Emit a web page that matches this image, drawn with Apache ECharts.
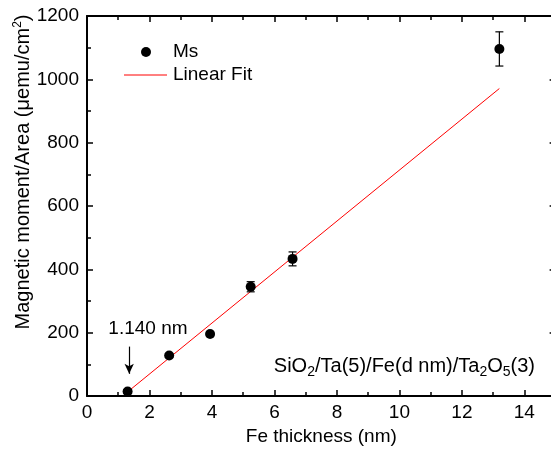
<!DOCTYPE html>
<html><head><meta charset="utf-8">
<script src="https://cdn.jsdelivr.net/npm/echarts@6/dist/echarts.min.js"></script>
<style>html,body{margin:0;padding:0;background:#fff}#c{width:551px;height:450px}</style>
</head><body><div id="c"></div>
<script>
// Data
const thickness = [1.30, 2.63, 3.94, 5.24, 6.58, 13.2];
const msValues  = [14, 128, 196, 345, 433, 1096];
const msErrors  = [6, 6, 6, 16, 22, 54];
const fitX = [1.30, 13.2];
const fitY = [13, 971];
const arrowX = 1.35;
const arrowFromY = 156;
const arrowToY = 70;
const arrowLabel = '1.140 nm';

const FONT = 'Liberation Sans, Arial, sans-serif';
const FS = 19;
const scatterData = thickness.map((x, i) => [x, msValues[i]]);
const errData = thickness.map((x, i) => [x, msValues[i], msErrors[i]]);
const fitData = fitX.map((x, i) => [x, fitY[i]]);

const chart = echarts.init(document.getElementById('c'));
const lineStyle = {color: '#000', width: 2};
function xAx(pos, interval, tickLen, showLabel, showLine) {
  return {
    type: 'value', min: 0, max: 15, interval: interval, position: pos,
    axisLine: {show: showLine, onZero: false, lineStyle: lineStyle},
    axisTick: {show: true, inside: true, length: tickLen, lineStyle: {color: '#000', width: 1.5}},
    axisLabel: {show: showLabel, color: '#000', fontSize: FS, fontFamily: FONT, margin: 7,
      formatter: v => (v % 2 === 0 ? String(v) : '')},
    splitLine: {show: false},
    name: (showLabel ? 'Fe thickness (nm)' : ''), nameLocation: 'middle', nameGap: 29,
    nameTextStyle: {color: '#000', fontSize: FS, fontFamily: FONT}
  };
}
function yAx(pos, showLabel) {
  return {
    type: 'value', min: 0, max: 1200, interval: 200, position: pos,
    axisLine: {show: true, onZero: false, lineStyle: lineStyle},
    axisTick: {show: true, inside: true, length: 6, lineStyle: {color: '#000', width: 1.5}},
    minorTick: {show: true, splitNumber: 2, length: 4, lineStyle: {color: '#000', width: 1.5}},
    axisLabel: {show: showLabel, color: '#000', fontSize: FS, fontFamily: FONT, margin: 8,
      formatter: v => String(v)},
    splitLine: {show: false}, minorSplitLine: {show: false}
  };
}

chart.setOption({
  animation: false,
  backgroundColor: '#fff',
  grid: {left: 87, right: -4.6, top: 16, bottom: 54, containLabel: false, outerBoundsMode: 'none'},
  xAxis: [
    xAx('bottom', 2, 6, true, true),
    xAx('bottom', 1, 4, false, false),
    xAx('top', 2, 6, false, true),
    xAx('top', 1, 4, false, false)
  ],
  yAxis: [yAx('left', true), yAx('right', false)],
  series: [
    {
      type: 'line', data: fitData, xAxisIndex: 0, yAxisIndex: 0,
      symbol: 'none', lineStyle: {color: '#ff0000', width: 1}, z: 2
    },
    {
      type: 'custom', data: errData, xAxisIndex: 0, yAxisIndex: 0, z: 3,
      renderItem: function (params, api) {
        const x = api.value(0), y = api.value(1), e = api.value(2);
        const t = api.coord([x, y + e]);
        const b = api.coord([x, y - e]);
        const hw = 4;
        const st = {stroke: '#000', lineWidth: 1.2};
        return {type: 'group', children: [
          {type: 'line', shape: {x1: t[0], y1: t[1], x2: b[0], y2: b[1]}, style: st},
          {type: 'line', shape: {x1: t[0] - hw, y1: t[1], x2: t[0] + hw, y2: t[1]}, style: st},
          {type: 'line', shape: {x1: b[0] - hw, y1: b[1], x2: b[0] + hw, y2: b[1]}, style: st}
        ]};
      }
    },
    {
      type: 'scatter', data: scatterData, xAxisIndex: 0, yAxisIndex: 0, z: 4,
      symbol: 'circle', symbolSize: 10, itemStyle: {color: '#000', opacity: 1},
      markLine: {
        silent: true, symbol: ['none', 'arrow'], symbolSize: [7, 10],
        lineStyle: {color: '#000', width: 1.2, type: 'solid'},
        label: {show: false},
        data: [[{coord: [arrowX, arrowFromY]}, {coord: [arrowX, arrowToY]}]]
      },
      markPoint: {
        silent: true, symbol: 'rect', symbolSize: 1, itemStyle: {color: 'rgba(0,0,0,0)'},
        label: {show: true, position: 'inside', formatter: arrowLabel, color: '#000', fontSize: FS, fontFamily: FONT},
        data: [{coord: [1.95, 213]}]
      }
    }
  ],
  graphic: [
    {type: 'circle', shape: {cx: 146, cy: 52, r: 5}, style: {fill: '#000'}},
    {type: 'text', x: 173, y: 52, style: {text: 'Ms', fill: '#000', font: FS + 'px ' + FONT, textVerticalAlign: 'middle'}},
    {type: 'line', shape: {x1: 124, y1: 75, x2: 167, y2: 75}, style: {stroke: '#ff0000', lineWidth: 1}},
    {type: 'text', x: 173, y: 75, style: {text: 'Linear Fit', fill: '#000', font: FS + 'px ' + FONT, textVerticalAlign: 'middle'}},
    {type: 'text', x: 23, y: 172, rotation: Math.PI / 2,
      style: {
        text: '{n|Magnetic moment/Area (μemu/cm}{s|2}{n|)}',
        textAlign: 'center', textVerticalAlign: 'middle',
        rich: {
          n: {fontSize: 20, fontFamily: FONT, fill: '#000', color: '#000'},
          s: {fontSize: 12, fontFamily: FONT, fill: '#000', color: '#000', verticalAlign: 'top', padding: [0, 0, 10, 0]}
        }
      }},
    {type: 'text', x: 535, y: 366,
      style: {
        text: '{n|SiO}{s|2}{n|/Ta(5)/Fe(d nm)/Ta}{s|2}{n|O}{s|5}{n|(3)}',
        textAlign: 'right', textVerticalAlign: 'middle',
        rich: {
          n: {fontSize: 20, fontFamily: FONT, fill: '#000', color: '#000'},
          s: {fontSize: 14, fontFamily: FONT, fill: '#000', color: '#000', padding: [12, 0, 0, 0]}
        }
      }}
  ]
});
</script></body></html>
